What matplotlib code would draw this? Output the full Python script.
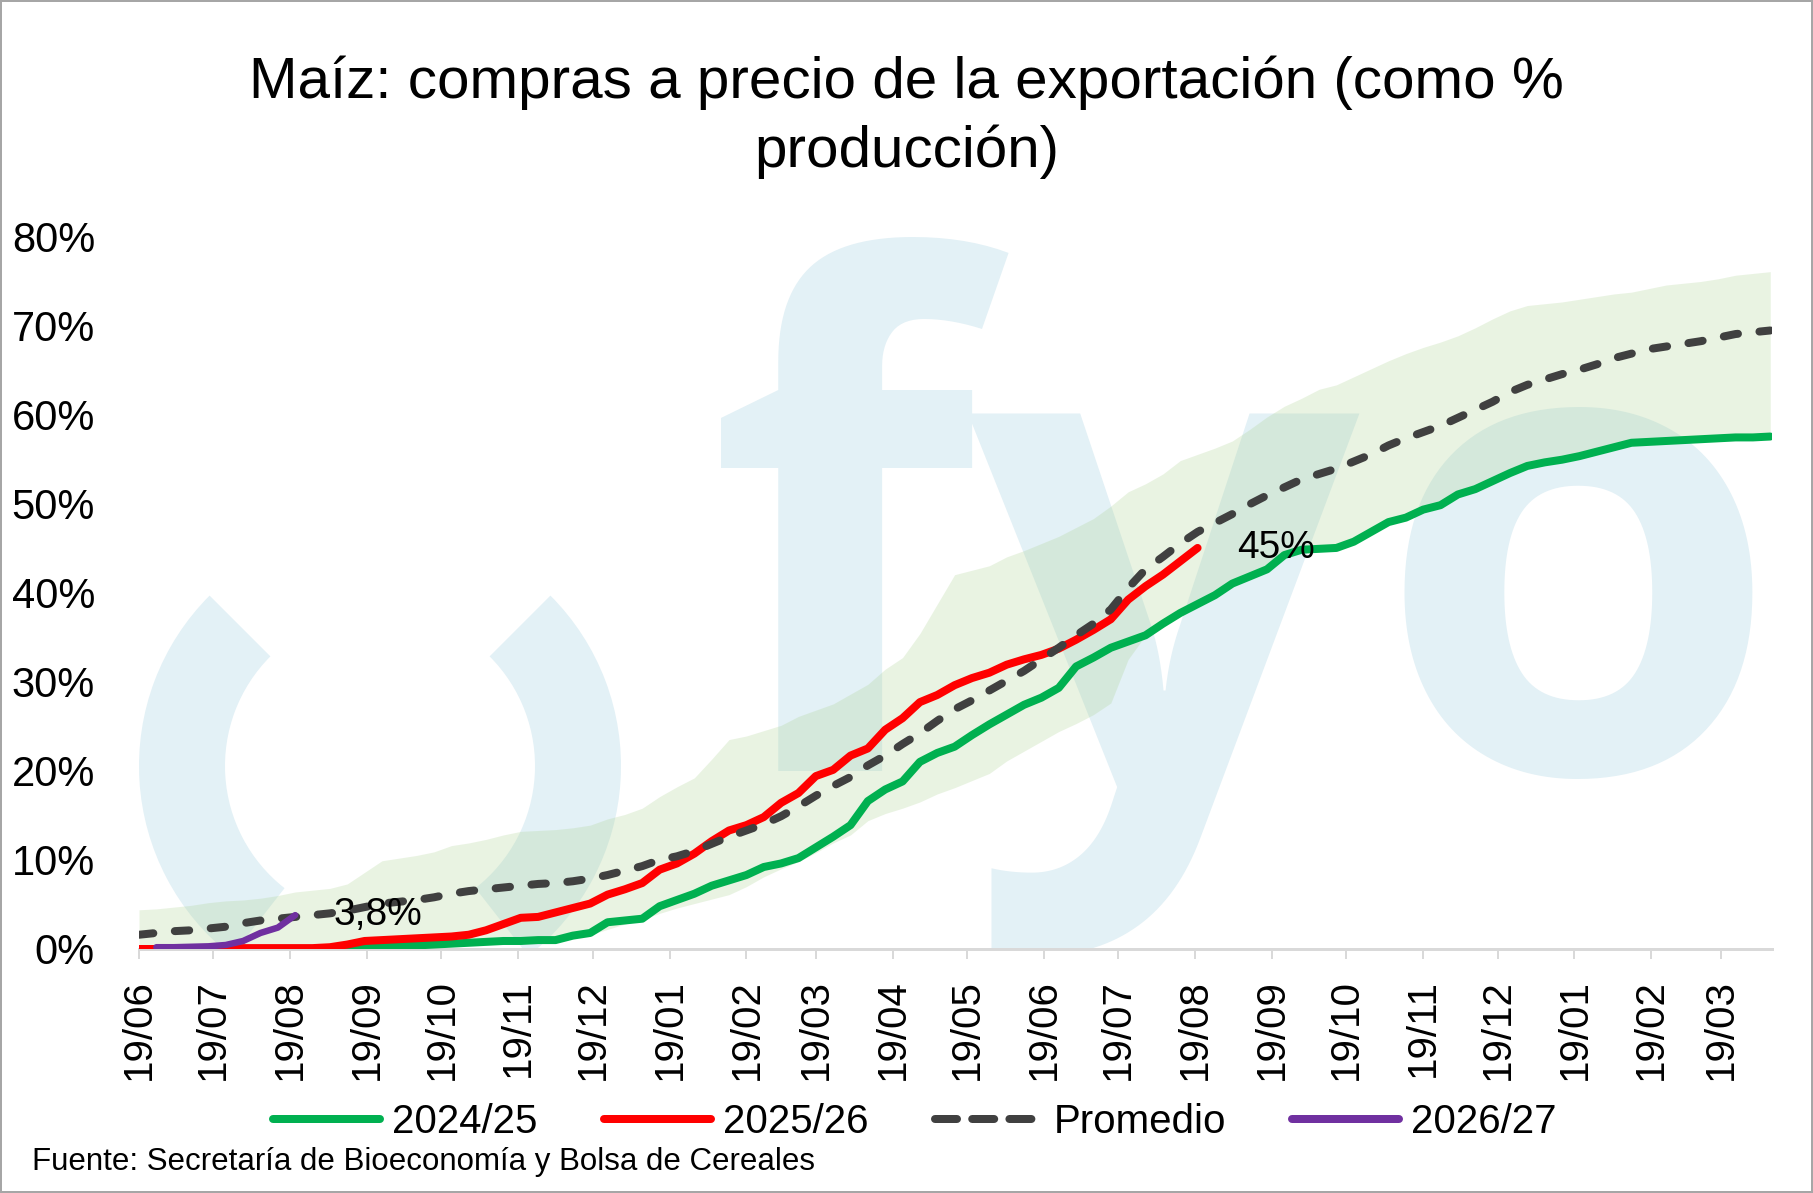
import matplotlib
matplotlib.use("Agg")
import matplotlib.pyplot as plt
import matplotlib.dates as mdates
import pandas as pd
from matplotlib.patches import Wedge, Rectangle
from matplotlib.lines import Line2D
from matplotlib.textpath import TextPath
from matplotlib.font_manager import FontProperties

plt.rcParams['font.family'] = ['Liberation Sans', 'DejaVu Sans']

# weekly data, % of production
start = '2024-06-19'
week_dates = pd.date_range(start, periods=95, freq='7D')

campaign_2425 = [
    0.0, 0.0, 0.0, 0.0, 0.0, 0.0, 0.0, 0.0, 0.0, 0.0,
    0.0, 0.0, 0.1, 0.2, 0.3, 0.3, 0.4, 0.5, 0.6, 0.7,
    0.8, 0.9, 0.9, 1.0, 1.0, 1.5, 1.8, 3.0, 3.2, 3.4,
    4.8, 5.5, 6.2, 7.1, 7.7, 8.3, 9.2, 9.6, 10.2, 11.4,
    12.6, 13.9, 16.6, 17.9, 18.8, 21.0, 22.0, 22.7, 24.0, 25.2,
    26.3, 27.4, 28.2, 29.3, 31.7, 32.7, 33.8, 34.5, 35.2, 36.5,
    37.7, 38.7, 39.7, 41.0, 41.8, 42.6, 44.2, 44.8, 44.9, 45.0,
    45.7, 46.8, 47.9, 48.4, 49.3, 49.8, 51.0, 51.6, 52.5, 53.4,
    54.2, 54.6, 54.9, 55.3, 55.8, 56.3, 56.8, 56.9, 57.0, 57.1,
    57.2, 57.3, 57.4, 57.4, 57.5,
]

campaign_2526 = [
    0.0, 0.0, 0.0, 0.0, 0.0, 0.1, 0.1, 0.1, 0.1, 0.1,
    0.1, 0.2, 0.5, 0.9, 1.0, 1.1, 1.2, 1.3, 1.4, 1.6,
    2.1, 2.8, 3.5, 3.6, 4.1, 4.6, 5.1, 6.1, 6.7, 7.4,
    8.9, 9.6, 10.7, 12.1, 13.3, 13.9, 14.8, 16.4, 17.5, 19.4,
    20.1, 21.7, 22.5, 24.6, 25.9, 27.7, 28.5, 29.6, 30.4, 31.0,
    31.9, 32.5, 33.0, 33.7, 34.7, 35.8, 37.0, 39.2, 40.7, 42.0,
    43.5, 45.0,
]

campaign_2627 = [0.2, 0.2, 0.25, 0.3, 0.45, 0.9, 1.8, 2.4, 3.8]  # from week 1

promedio = [
    1.6, 1.8, 2.0, 2.1, 2.3, 2.5, 2.9, 3.2, 3.4, 3.6,
    3.8, 4.0, 4.3, 4.7, 5.1, 5.3, 5.5, 5.8, 6.2, 6.5,
    6.7, 6.9, 7.1, 7.3, 7.4, 7.6, 7.9, 8.3, 8.8, 9.3,
    10.0, 10.4, 11.0, 11.8, 12.6, 13.3, 14.0, 14.9, 16.0, 17.2,
    18.3, 19.3, 20.6, 21.7, 23.0, 24.2, 25.6, 26.9, 27.9, 29.0,
    30.1, 31.2, 32.5, 33.8, 35.2, 36.5, 38.1, 40.5, 42.6, 44.0,
    45.5, 46.8, 47.8, 48.8, 49.9, 50.9, 51.8, 52.7, 53.3, 53.9,
    54.7, 55.5, 56.5, 57.3, 58.0, 58.7, 59.6, 60.5, 61.4, 62.5,
    63.3, 63.9, 64.5, 65.0, 65.6, 66.3, 66.8, 67.3, 67.6, 67.9,
    68.2, 68.6, 69.0, 69.2, 69.4,
]

band_max = [
    4.4, 4.5, 4.7, 4.9, 5.2, 5.4, 5.5, 5.7, 6.0, 6.4,
    6.6, 6.8, 7.3, 8.6, 9.9, 10.2, 10.5, 10.9, 11.6, 11.9,
    12.3, 12.8, 13.2, 13.3, 13.4, 13.6, 13.9, 14.6, 15.1, 15.8,
    17.1, 18.2, 19.2, 21.3, 23.5, 23.9, 24.5, 25.1, 26.1, 26.8,
    27.5, 28.6, 29.7, 31.4, 32.7, 35.4, 38.7, 42.0, 42.5, 43.0,
    44.0, 44.7, 45.5, 46.3, 47.3, 48.3, 49.7, 51.3, 52.2, 53.3,
    54.8, 55.5, 56.2, 57.0, 58.3, 59.7, 60.9, 61.8, 62.8, 63.3,
    64.2, 65.1, 66.0, 66.8, 67.5, 68.1, 68.8, 69.7, 70.7, 71.6,
    72.2, 72.4, 72.6, 72.9, 73.2, 73.5, 73.7, 74.1, 74.5, 74.7,
    74.9, 75.2, 75.6, 75.8, 76.0,
]

# minimum of past campaigns; from week 58 on it is the 2024/25 line itself
band_min_head = [
    0.0, 0.0, 0.0, 0.0, 0.0, 0.0, 0.0, 0.0, 0.0, 0.0,
    0.0, 0.0, 0.1, 0.2, 0.3, 0.3, 0.4, 0.5, 0.6, 0.7,
    0.8, 0.9, 0.9, 1.0, 1.0, 1.3, 1.6, 2.2, 2.8, 3.3,
    4.0, 4.6, 5.1, 5.6, 6.1, 7.0, 8.1, 9.0, 9.8, 10.8,
    11.9, 12.8, 14.4, 15.2, 15.8, 16.5, 17.4, 18.1, 18.9, 19.7,
    21.1, 22.2, 23.3, 24.4, 25.3, 26.3, 27.6, 32.5,
]
band_min = band_min_head + campaign_2425[len(band_min_head):]

y_ticks = [0, 10, 20, 30, 40, 50, 60, 70, 80]

W, H, DPI = 1813, 1193, 100
PT = 72 / DPI  # px -> pt

fig = plt.figure(figsize=(W / DPI, H / DPI), dpi=DPI)
fig.patch.set_facecolor('white')

# plot area in pixels
px_left, px_right, px_top, px_bottom = 139, 1772, 236, 949
rect = [px_left / W, 1 - px_bottom / H, (px_right - px_left) / W, (px_bottom - px_top) / H]

# --- watermark (fyo logo), pixel coordinates, clipped to plot area
wm = fig.add_axes(rect, zorder=0)
wm.set_xlim(px_left, px_right)
wm.set_ylim(px_bottom, px_top)
wm.axis('off')
wm_color = '#E3F1F6'
for t1, t2 in [(128, 225), (-45, 52)]:
    wm.add_patch(Wedge((380, 766), 241, t1, t2, width=86, color=wm_color, lw=0))

wm_font = FontProperties(family=['Open Sans', 'DejaVu Sans'], weight='bold')


def logo_letter(ch, x0, x1, top, bottom):
    ext = TextPath((0, 0), ch, size=100, prop=wm_font).get_extents()
    s = (bottom - top) / ext.height
    base = bottom + ext.y0 * s
    wm.text((x0 + x1) / 2, base, ch, fontproperties=wm_font, fontsize=100 * s * PT,
            color=wm_color, ha='center', va='baseline', clip_on=True)


logo_letter('f', 700, 985, 237, 771)
logo_letter('y', 950, 1376, 414, 955)
logo_letter('o', 1385, 1770, 407, 779)

# --- main chart
ax = fig.add_axes(rect, zorder=1)
ax.set_facecolor('none')

lw = 8 * PT
ax.fill_between(week_dates, band_min, band_max, color='#a9d18e', alpha=0.25, lw=0, zorder=1)
ax.plot(week_dates, campaign_2425, color='#00B050', lw=lw, solid_capstyle='round', zorder=3)
ax.plot(week_dates[:len(campaign_2526)], campaign_2526, color='#FF0000', lw=lw,
        solid_capstyle='round', zorder=4)
ax.plot(week_dates, promedio, color='#404040', lw=lw, dashes=(1.8, 2.7),
        dash_capstyle='round', zorder=5)
ax.plot(week_dates[1:1 + len(campaign_2627)], campaign_2627, color='#7030A0', lw=6.5 * PT,
        solid_capstyle='round', zorder=6)

lbl_size = 28
ax.annotate('3,8%', xy=(week_dates[len(campaign_2627)], campaign_2627[-1]), xytext=(38, 0),
            textcoords='offset pixels', ha='left', va='center', fontsize=lbl_size, zorder=7)
ax.annotate('45%', xy=(week_dates[len(campaign_2526) - 1], campaign_2526[-1]), xytext=(40, 0),
            textcoords='offset pixels', ha='left', va='center', fontsize=lbl_size, zorder=7)

x0 = mdates.date2num(week_dates[0])
ax.set_xlim(x0, x0 + 658.7)
ax.set_ylim(0, 80)
ax.set_yticks(y_ticks)
ax.set_yticklabels([f'{t}%' for t in y_ticks])
ax.xaxis.set_major_locator(mdates.MonthLocator(bymonthday=19))
ax.xaxis.set_major_formatter(mdates.DateFormatter('%d/%m'))

for side in ['left', 'right', 'top']:
    ax.spines[side].set_visible(False)
ax.spines['bottom'].set_color('#D9D9D9')
ax.spines['bottom'].set_linewidth(3 * PT)
ax.tick_params(axis='y', length=0, pad=44 * PT, labelsize=30)
ax.tick_params(axis='x', length=10 * PT, width=2 * PT, color='#D9D9D9',
               pad=20 * PT, labelsize=29, labelrotation=90)

# title, two centred lines
title_font = ['Liberation Sans', 'DejaVu Sans']
fig.text(0.5, 1 - 98 / H, 'Maíz: compras a precio de la exportación (como %',
         family=title_font, fontsize=42, ha='center', va='baseline')
fig.text(0.5, 1 - 167 / H, 'producción)', family=title_font, fontsize=42,
         ha='center', va='baseline')

handles = [
    Line2D([], [], color='#00B050', lw=lw, solid_capstyle='round'),
    Line2D([], [], color='#FF0000', lw=lw, solid_capstyle='round'),
    Line2D([], [], color='#404040', lw=lw, dashes=(2.75, 1.9), dash_capstyle='round'),
    Line2D([], [], color='#7030A0', lw=lw, solid_capstyle='round'),
]
fig.legend(handles, ['2024/25', '2025/26', 'Promedio', '2026/27'], loc='center',
           bbox_to_anchor=(915 / W, 1 - 1122 / H), ncol=4, frameon=False, fontsize=29,
           handlelength=2.65, handletextpad=0.3, columnspacing=1.65)

fig.text(32 / W, 1 - 1162 / H, 'Fuente: Secretaría de Bioeconomía y Bolsa de Cereales',
         fontsize=22.5, ha='left', va='center')

fig.patches.append(Rectangle((0, 0), 1, 1, transform=fig.transFigure, fill=False,
                             edgecolor='#A6A6A6', lw=4 * PT))

fig.savefig('out.png', dpi=DPI)
